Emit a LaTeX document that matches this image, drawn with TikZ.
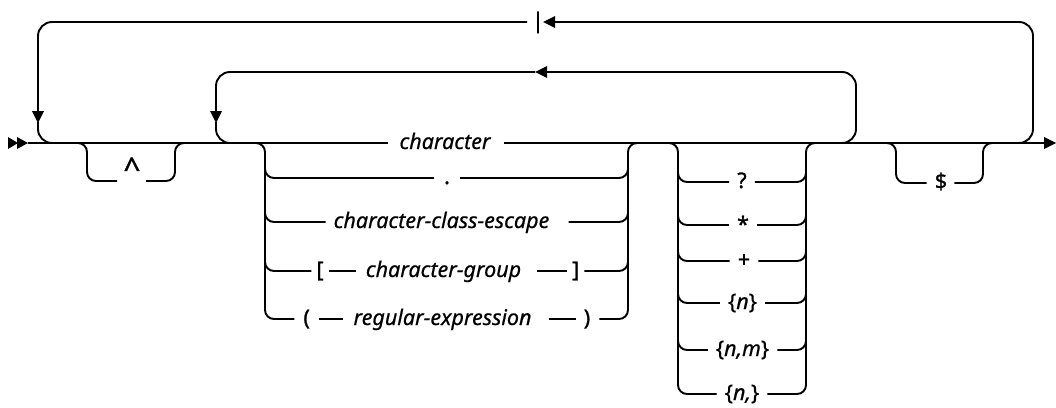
\documentclass[tikz,border=0pt]{standalone}
\usepackage{fontspec}
\setmainfont{Noto Sans}
\newfontfamily\railfont{Noto Sans}[FakeBold=0.6]
\newfontfamily\kwfont{Noto Sans}[FakeBold=1.2]
\begin{document}
\begin{tikzpicture}[x=1pt,y=-1pt,
  rail/.style={line width=1.9pt, rounded corners=9pt},
  looprail/.style={line width=1.9pt, rounded corners=14pt},
  nt/.style={font=\railfont\fontsize{21.5}{26}\selectfont\itshape, inner sep=0pt, text height=12pt, text depth=0pt},
  kw/.style={font=\kwfont\fontsize{21.5}{26}\selectfont\bfseries, inner sep=0pt, text height=12pt, text depth=0pt},
  qt/.style={font=\railfont\fontsize{21.5}{26}\selectfont, inner sep=0pt, text height=12pt, text depth=0pt},
  tip/.style={fill=black}]
\useasboundingbox (0,0) rectangle (1056,407);

% ---------- text nodes
\node[nt] (char) at (445,143) {character};
\node[kw] (dot) at (447,178) {.};
\node[nt] (cce) at (441.5,222) {character-class-escape};
\node[kw] (lbr) at (320,271) {[};
\node[nt] (cg) at (443.5,271) {character-group};
\node[kw] (rbr) at (575.7,271) {]};
\node[kw] (lpar) at (306.7,319) {(};
\node[nt] (re) at (442.5,319) {regular-expression};
\node[kw] (rpar) at (587,319) {)};
\node[kw, font=\kwfont\fontsize{30}{32}\selectfont\bfseries, text height=6pt] (caret) at (132,176) {\textasciicircum};
\node[kw] (q1) at (742,182) {?};
\node[kw] (q2) at (743,226) {*};
\node[kw] (q3) at (744,261) {+};
\node[qt] (q4) at (742.5,303) {\{\textit{n}\}};
\node[qt] (q5) at (742.5,350) {\{\textit{n,m}\}};
\node[qt] (q6) at (742,394) {\{\textit{n,}\}};
\node[kw] (dollar) at (941,183) {\$};
\node[kw] (bar) at (538,22) {|};

% ---------- start / end
\coordinate (start) at (28,143);
\coordinate (end) at (1044,143);
\fill[tip] (8,137) -- (18,143) -- (8,149) -- cycle;
\fill[tip] (17,137) -- (28,143) -- (17,149) -- cycle;
\fill[tip] (1044,137) -- (1056,143) -- (1044,149) -- cycle;

% ---------- main line
\draw[rail] (start) -- ([xshift=-11pt]char.west);
\draw[rail] ([xshift=13pt]char.east) -- (end);

% ---------- optional ^
\draw[rail] (78,143) -- (87,143) -- (87,181) -- (117,181);
\draw[rail] (146,181) -- (175,181) -- (175,143) -- (185,143);

% ---------- outer repeat loop with separator |
\draw[looprail] (1013,143) -- (1033,143) -- (1033,22) -- (555,22);
\fill[tip] (555,16) -- (543,22) -- (555,28) -- cycle;
\draw[looprail] (527,22) -- (38,22) -- (38,112);
\fill[tip] (32,111) -- (38,123) -- (44,111) -- cycle;
\draw[looprail] (38,122) -- (38,143) -- (57,143);

% ---------- inner repeat loop
\draw[looprail] (842,143) -- (856,143) -- (856,72) -- (547,72);
\fill[tip] (547,66) -- (535,72) -- (547,78) -- cycle;
\draw[looprail] (535,72) -- (216,72) -- (216,112);
\fill[tip] (210,111) -- (216,123) -- (222,111) -- cycle;
\draw[looprail] (216,122) -- (216,143) -- (233,143);

% ---------- atom choice
\draw[rail] (255,143) -- (265,143) -- (265,319) -- ([xshift=-9pt]lpar.west);
\draw[rail] (265,165) -- (265,178) -- ([xshift=-10pt]dot.west);
\draw[rail] (265,205) -- (265,222) -- ([xshift=-8pt]cce.west);
\draw[rail] (265,255) -- (265,271) -- ([xshift=-5pt]lbr.west);
\draw[rail] ([xshift=10pt]dot.east) -- (628,178) -- (628,165);
\draw[rail] ([xshift=19pt]cce.east) -- (628,222) -- (628,205);
\draw[rail] ([xshift=5pt]rbr.east) -- (628,271) -- (628,255);
\draw[rail] ([xshift=9pt]rpar.east) -- (628,319) -- (628,143) -- (638,143);
\draw[rail] ([xshift=5pt]lbr.east) -- ([xshift=-10pt]cg.west);
\draw[rail] ([xshift=16pt]cg.east) -- ([xshift=-5pt]rbr.west);
\draw[rail] ([xshift=9pt]lpar.east) -- ([xshift=-10pt]re.west);
\draw[rail] ([xshift=17pt]re.east) -- ([xshift=-8pt]rpar.west);

% ---------- quantifier choice
\draw[rail] (668,143) -- (678,143) -- (678,394) -- ([xshift=-8pt]q6.west);
\draw[rail] (678,168) -- (678,182) -- ([xshift=-8pt]q1.west);
\draw[rail] (678,208) -- (678,225) -- ([xshift=-8pt]q2.west |- 0,225);
\draw[rail] (678,245) -- (678,261) -- ([xshift=-8pt]q3.west);
\draw[rail] (678,287) -- (678,303) -- ([xshift=-8pt]q4.west);
\draw[rail] (678,334) -- (678,350) -- ([xshift=-8pt]q5.west);
\draw[rail] ([xshift=8pt]q1.east) -- (806,182) -- (806,168);
\draw[rail] ([xshift=8pt]q2.east |- 0,225) -- (806,225) -- (806,208);
\draw[rail] ([xshift=8pt]q3.east) -- (806,261) -- (806,245);
\draw[rail] ([xshift=8pt]q4.east) -- (806,303) -- (806,287);
\draw[rail] ([xshift=8pt]q5.east) -- (806,350) -- (806,334);
\draw[rail] ([xshift=8pt]q6.east) -- (806,394) -- (806,143) -- (815,143);

% ---------- optional $
\draw[rail] (888,143) -- (896,143) -- (896,183) -- ([xshift=-8pt]dollar.west);
\draw[rail] ([xshift=7pt]dollar.east) -- (983,183) -- (983,143) -- (992,143);
\end{tikzpicture}
\end{document}
